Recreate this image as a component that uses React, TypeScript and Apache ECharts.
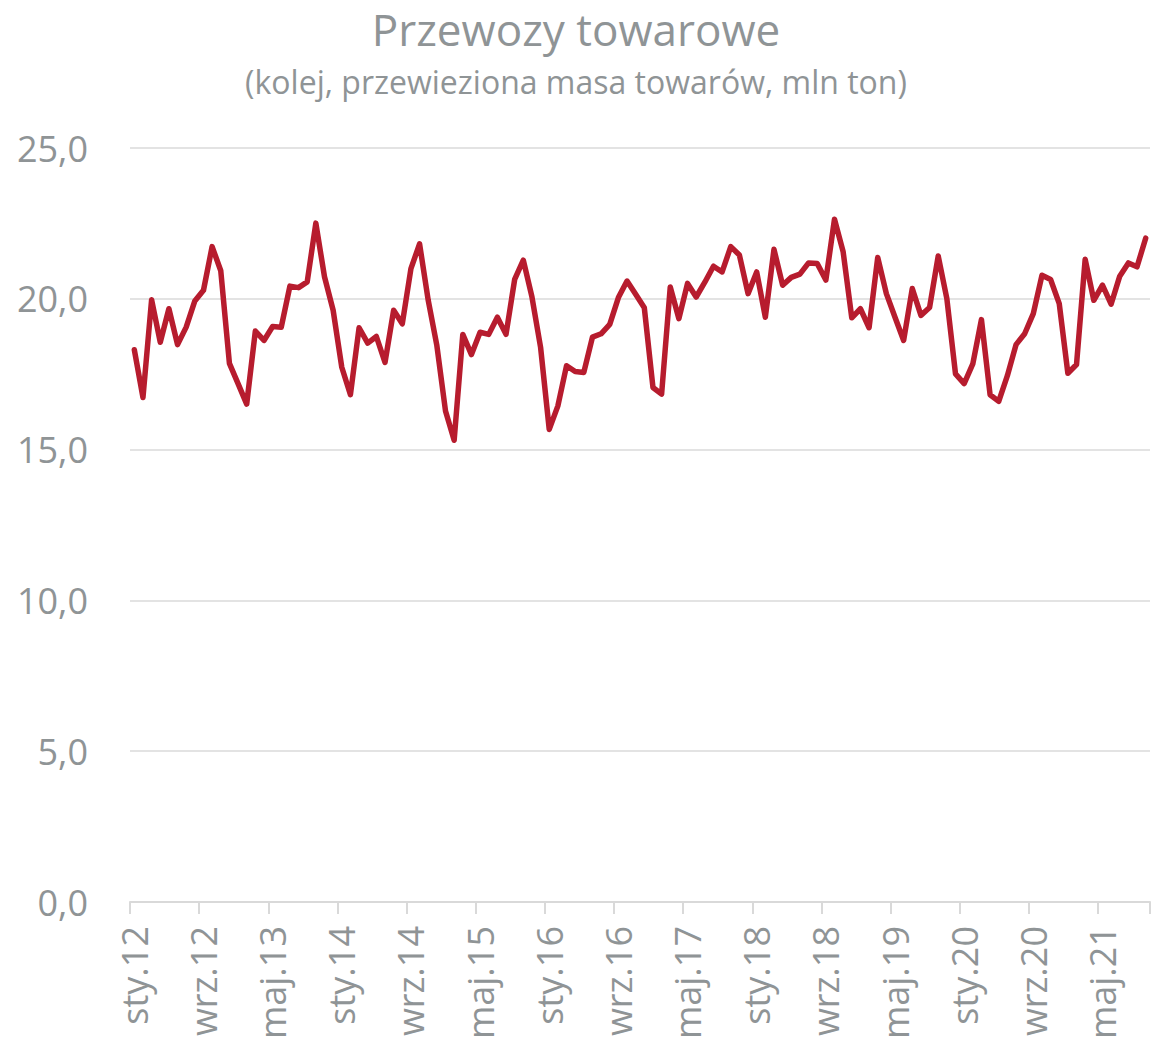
import React, { useEffect, useRef } from "react";
import * as echarts from "echarts";

const monthNames = ["sty", "lut", "mar", "kwi", "maj", "cze", "lip", "sie", "wrz", "paź", "lis", "gru"];
const startYear = 12;
const values = [
  18.31, 16.73, 19.97, 18.56, 19.67, 18.48, 19.06, 19.93, 20.28, 21.73, 20.93, 17.86,
  17.19, 16.51, 18.93, 18.62, 19.08, 19.06, 20.42, 20.37, 20.56, 22.51, 20.73, 19.62,
  17.73, 16.82, 19.04, 18.53, 18.75, 17.89, 19.62, 19.17, 21.0, 21.82, 19.95, 18.45,
  16.28, 15.31, 18.82, 18.15, 18.89, 18.82, 19.39, 18.82, 20.64, 21.28, 20.06, 18.39,
  15.67, 16.45, 17.78, 17.59, 17.56, 18.73, 18.84, 19.15, 20.04, 20.59, 20.15, 19.7,
  17.06, 16.84, 20.39, 19.34, 20.51, 20.06, 20.55, 21.08, 20.89, 21.73, 21.45, 20.17,
  20.89, 19.39, 21.64, 20.45, 20.71, 20.82, 21.19, 21.17, 20.62, 22.64, 21.56, 19.37,
  19.67, 19.04, 21.37, 20.17, 19.39, 18.62, 20.34, 19.45, 19.71, 21.42, 20.0, 17.51,
  17.19, 17.84, 19.31, 16.82, 16.6, 17.45, 18.48, 18.84, 19.51, 20.78, 20.64, 19.84,
  17.53, 17.82, 21.31, 19.95, 20.45, 19.82, 20.75, 21.19, 21.06, 22.01,
];
const categories = values.map((_, i) => {
  const m = i % 12;
  const y = startYear + Math.floor(i / 12);
  return `${monthNames[m]}.${y}`;
});
const titleText = "Przewozy towarowe";
const subtitleText = "(kolej, przewieziona masa towarów, mln ton)";

const gray = "#8f9496";
const font = "'Open Sans', sans-serif";

export default function App() {
  const ref = useRef<HTMLDivElement>(null);
  useEffect(() => {
    document.body.style.margin = "0";
    const chart = echarts.init(ref.current!, undefined, { renderer: "svg" });
    chart.setOption({
      animation: false,
      backgroundColor: "#ffffff",
      title: [
        {
          text: titleText,
          left: "center",
          top: 2,
          textStyle: { color: gray, fontFamily: font, fontSize: 44, fontWeight: "normal" },
        },
        {
          text: subtitleText,
          left: "center",
          top: 60,
          textStyle: { color: gray, fontFamily: font, fontSize: 32, fontWeight: "normal" },
        },
      ],
      grid: { left: 130, right: 2, top: 148, bottom: 145, containLabel: false },
      xAxis: {
        type: "category",
        data: categories,
        boundaryGap: true,
        axisLine: { show: true, lineStyle: { color: "#d9d9d9", width: 2 } },
        axisTick: { show: true, interval: 7, length: 12, lineStyle: { color: "#d9d9d9", width: 2 } },
        axisLabel: {
          interval: 7,
          rotate: 90,
          margin: 24,
          color: gray,
          fontFamily: font,
          fontSize: 36,
        },
        splitLine: { show: false },
      },
      yAxis: {
        type: "value",
        min: 0,
        max: 25,
        interval: 5,
        axisLine: { show: false },
        axisTick: { show: false },
        axisLabel: {
          margin: 42,
          color: gray,
          fontFamily: font,
          fontSize: 36,
          formatter: (v: number) => v.toFixed(1).replace(".", ","),
        },
        splitLine: { show: true, lineStyle: { color: "#e3e3e3", width: 2 } },
      },
      series: [
        {
          type: "line",
          data: values,
          showSymbol: false,
          symbol: "none",
          lineStyle: { color: "#b71c2e", width: 5.5, join: "round", cap: "round" },
          itemStyle: { color: "#b71c2e" },
        },
      ],
    });
    return () => chart.dispose();
  }, []);
  return <div ref={ref} style={{ width: 1152, height: 1047 }} />;
}
